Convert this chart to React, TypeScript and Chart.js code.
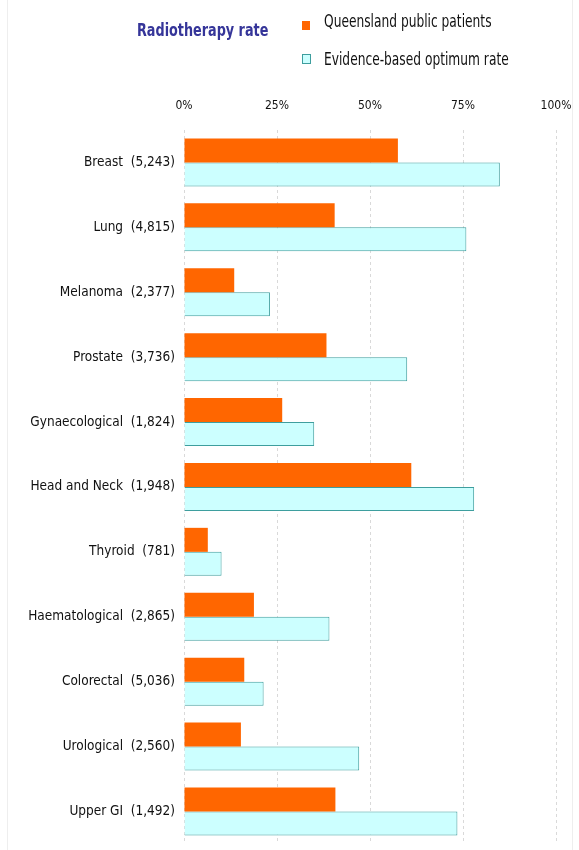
import React, { useEffect, useRef } from "react";
import { Chart, registerables } from "chart.js";

Chart.register(...registerables);

const categories = [
  "Breast  (5,243)",
  "Lung  (4,815)",
  "Melanoma  (2,377)",
  "Prostate  (3,736)",
  "Gynaecological  (1,824)",
  "Head and Neck  (1,948)",
  "Thyroid  (781)",
  "Haematological  (2,865)",
  "Colorectal  (5,036)",
  "Urological  (2,560)",
  "Upper GI  (1,492)",
];

const queenslandRate = [57.5, 40.5, 13.5, 38.3, 26.4, 61.1, 6.4, 18.8, 16.2, 15.3, 40.7];
const optimumRate = [84.9, 75.9, 23.1, 60.0, 35.0, 78.0, 10.1, 39.1, 21.4, 47.1, 73.5];

const seriesNames = ["Queensland public patients", "Evidence-based optimum rate"];
const titleText = "Radiotherapy rate";
const tickValues = [0, 25, 50, 75, 100];

const ORANGE = "#FF6600";
const CYAN = "#CCFFFF";
const TEAL = "#3E9E9E";
const FONT = "'DejaVu Sans Condensed', 'DejaVu Sans', sans-serif";

export default function App() {
  const canvasRef = useRef<HTMLCanvasElement | null>(null);

  useEffect(() => {
    const canvas = canvasRef.current;
    if (!canvas) return;
    const chart = new Chart(canvas, {
      type: "bar",
      data: {
        labels: categories,
        datasets: [
          {
            label: seriesNames[0],
            data: queenslandRate,
            backgroundColor: ORANGE,
            borderColor: ORANGE,
            borderWidth: 0,
            categoryPercentage: 0.74,
            barPercentage: 1.0,
          },
          {
            label: seriesNames[1],
            data: optimumRate,
            backgroundColor: CYAN,
            borderColor: TEAL,
            borderWidth: 1,
            categoryPercentage: 0.74,
            barPercentage: 1.0,
          },
        ],
      },
      options: {
        indexAxis: "y",
        responsive: false,
        animation: false,
        devicePixelRatio: 1,
        layout: { padding: { left: 0, right: 23, top: 0, bottom: 0 } },
        plugins: {
          legend: { display: false },
          title: { display: false },
          tooltip: { enabled: false },
        },
        scales: {
          x: {
            position: "top",
            min: 0,
            max: 100,
            afterFit: (scale: any) => {
              scale.height = 130;
              scale.paddingLeft = 0;
              scale.paddingRight = 0;
            },
            afterBuildTicks: (scale: any) => {
              scale.ticks = tickValues.map((v) => ({ value: v }));
            },
            ticks: {
              padding: 17,
              color: "#111111",
              font: { family: FONT, size: 12 },
              callback: (v: any) => `${v}%`,
            },
            grid: {
              display: true,
              drawTicks: false,
              color: "#d9d9d9",
              lineWidth: 1,
            },
            border: { display: false, dash: [3, 3] },
          },
          y: {
            afterFit: (scale: any) => {
              scale.width = 184;
            },
            ticks: {
              padding: 9,
              color: "#111111",
              font: { family: FONT, size: 13.5 },
            },
            grid: { display: false, drawTicks: false },
            border: { display: false },
          },
        },
      },
    });
    return () => chart.destroy();
  }, []);

  const textBase: React.CSSProperties = {
    position: "absolute",
    fontFamily: FONT,
    whiteSpace: "nowrap",
    transformOrigin: "0 0",
  };

  return (
    <div
      style={{
        position: "fixed",
        left: 0,
        top: 0,
        width: 579,
        height: 850,
        overflow: "hidden",
        background: "#ffffff",
      }}
    >
      <div style={{ position: "absolute", left: 7, top: 0, width: 1, height: 850, background: "#eeeeee" }} />
      <div style={{ position: "absolute", left: 572, top: 0, width: 1, height: 850, background: "#eeeeee" }} />
      <canvas
        ref={canvasRef}
        width={579}
        height={861}
        style={{ position: "absolute", left: 0, top: 0, width: 579, height: 861 }}
      />
      <div
        style={{
          ...textBase,
          left: 137,
          top: 18,
          fontWeight: "bold",
          fontSize: 18,
          lineHeight: "24px",
          color: "#353599",
          transform: "scaleX(0.79)",
        }}
      >
        {titleText}
      </div>
      <div style={{ position: "absolute", left: 302, top: 21, width: 8, height: 9, background: ORANGE }} />
      <div
        style={{
          ...textBase,
          left: 324,
          top: 10,
          fontSize: 17,
          lineHeight: "22px",
          color: "#111111",
          transform: "scaleX(0.8)",
        }}
      >
        {seriesNames[0]}
      </div>
      <div
        style={{
          position: "absolute",
          left: 302,
          top: 54,
          width: 7,
          height: 8,
          background: CYAN,
          border: `1px solid ${TEAL}`,
        }}
      />
      <div
        style={{
          ...textBase,
          left: 324,
          top: 48,
          fontSize: 17,
          lineHeight: "22px",
          color: "#111111",
          transform: "scaleX(0.8)",
        }}
      >
        {seriesNames[1]}
      </div>
    </div>
  );
}
